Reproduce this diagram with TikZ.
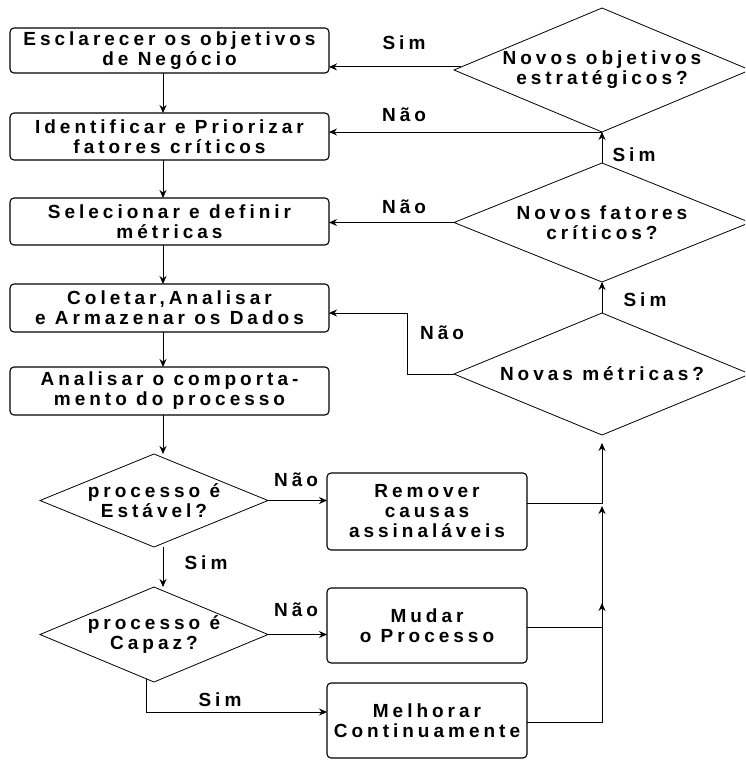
\documentclass[tikz,border=0pt]{standalone}
\usepackage{fontspec}
\setmainfont{Liberation Sans}[LetterSpace=21]
\usetikzlibrary{shapes.geometric,arrows.meta,calc}
\begin{document}
\begin{tikzpicture}[x=1pt,y=-1pt,
  txt/.style={font=\bfseries\fontsize{19}{20}\selectfont},
  box/.style={txt,draw,rounded corners=4pt,line width=1.1pt,align=center,inner sep=0pt,outer sep=0pt},
  lbox/.style={box,minimum width=319pt},
  rbox/.style={box,minimum width=200pt},
  dec/.style={draw,diamond,line width=0.8pt,inner sep=0pt,outer sep=0pt},
  dtext/.style={txt,align=center},
  lab/.style={txt,inner sep=0pt},
  conn/.style={line width=0.9pt},
  arr/.style={conn,-{Stealth[length=8pt,width=7pt]}}]
\useasboundingbox (0,0) rectangle (745,760);
\clip (0,0) rectangle (745,760);

% main sequence of steps
\node[lbox,minimum height=45pt] (b1) at (169.5,50.5) {Esclarecer os objetivos\\de Negócio};
\node[lbox,minimum height=47pt] (b2) at (169.5,136.5) {Identificar e Priorizar\\fatores críticos};
\node[lbox,minimum height=47pt] (b3) at (169.5,221.5) {Selecionar e definir\\métricas};
\node[lbox,minimum height=48pt] (b4) at (169.5,308) {Coletar,Analisar\\e Armazenar os Dados};
\node[lbox,minimum height=48pt] (b5) at (169.5,391) {Analisar o comporta-\\mento do processo};

% process checks
\node[dec,minimum width=228pt,minimum height=93pt,
      label={[dtext]center:processo é\\Estável?}] (est) at (154,500.5) {};
\node[dec,minimum width=228pt,minimum height=95pt,
      label={[dtext]center:processo é\\Capaz?}] (cap) at (154,634.5) {};

% corrective actions
\node[rbox,minimum height=77pt] (rem) at (427,511.5) {Remover\\causas\\assinaláveis};
\node[rbox,minimum height=75pt] (mud) at (427,625.5) {Mudar\\o Processo};
\node[rbox,minimum height=75pt] (mel) at (427,720.5) {Melhorar\\Continuamente};

% review questions
\node[dec,minimum width=296pt,minimum height=124pt,
      label={[dtext]center:Novos objetivos\\estratégicos?}] (obj) at (602,70) {};
\node[dec,minimum width=296pt,minimum height=119pt,
      label={[dtext]center:Novos fatores\\críticos?}] (fat) at (602,222.5) {};
\node[dec,minimum width=296pt,minimum height=122pt,
      label={[dtext]center:Novas métricas?}] (met) at (602,374) {};

% helper coordinates
\coordinate (sp) at (163,0);
\coordinate (mk) at (407,313);
\coordinate (cs) at ($(cap.west)!0.93!(cap.south)$);
\coordinate (ow) at ($(obj.west)!0.05!(obj.north)$);

% downward flow
\draw[arr] (b1.south -| sp) -- (b2.north -| sp);
\draw[arr] (b2.south -| sp) -- (b3.north -| sp);
\draw[arr] (b3.south -| sp) -- (b4.north -| sp);
\draw[arr] (b4.south -| sp) -- (b5.north -| sp);
\draw[arr] (b5.south -| sp) -- (est.north -| sp);
\draw[arr] (est.south -| sp) -- (cap.north -| sp);
\draw[arr] (est.east) -- (est.east -| rem.west);
\draw[arr] (cap.east) -- (cap.east -| mud.west);
\draw[arr] (cs) |- ($(mel.west)+(0,-8.5)$);

% feedback spine
\draw[arr] ($(mel.east)+(0,1.5)$) -| ($(met.south)+(0,168)$);
\draw[arr] ($(mud.east)+(0,1.5)$) -| ($(met.south)+(0,71)$);
\draw[arr] ($(rem.east)+(0,-8.5)$) -| ($(met.south)+(0,8)$);

% review loop
\draw[arr] (ow) -- (ow -| b1.east);
\draw[arr] (obj.south) -- (obj.south -| b2.east);
\draw[arr] (fat.north) -- (obj.south);
\draw[arr] (fat.west) -- (fat.west -| b3.east);
\draw[arr] (met.north) -- (fat.south);
\draw[arr] (met.west) -| (mk) -- (mk -| b4.east);

% branch labels
\node[lab] (l1) at (404,43) {Sim};
\node[lab] (l2) at (404,115) {Não};
\node[lab] (l3) at (634,155) {Sim};
\node[lab] (l4) at (404,207) {Não};
\node[lab] (l5) at (645,300) {Sim};
\node[lab] (l6) at (442,333) {Não};
\node[lab] (l7) at (296,480) {Não};
\node[lab] (l8) at (206,563) {Sim};
\node[lab] (l9) at (296,610) {Não};
\node[lab] (l10) at (220,700) {Sim};
\end{tikzpicture}
\end{document}
